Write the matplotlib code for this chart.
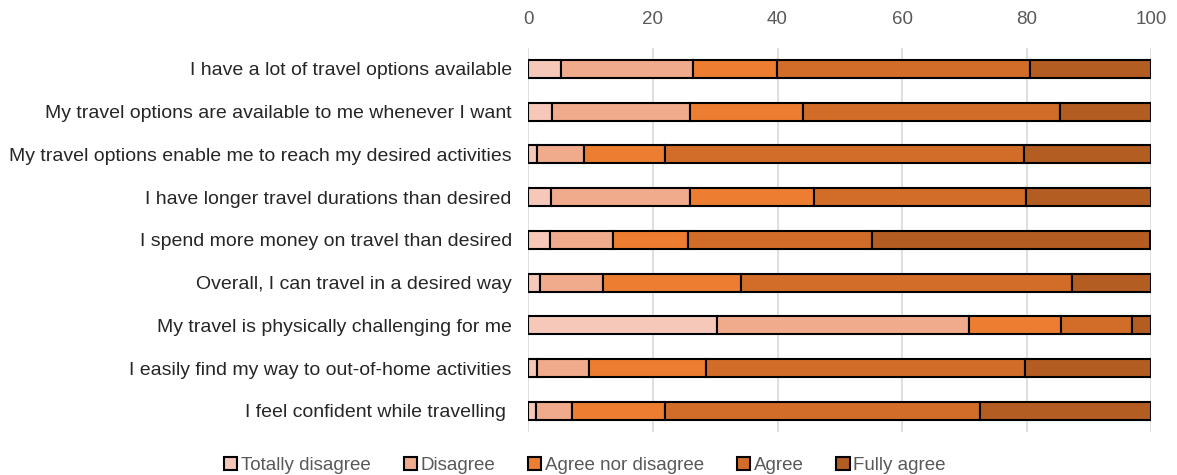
import numpy as np
import matplotlib.pyplot as plt

plt.rcParams['font.family'] = ['Liberation Sans', 'DejaVu Sans']

statements = [
    "I have a lot of travel options available",
    "My travel options are available to me whenever I want",
    "My travel options enable me to reach my desired activities",
    "I have longer travel durations than desired",
    "I spend more money on travel than desired",
    "Overall, I can travel in a desired way",
    "My travel is physically challenging for me",
    "I easily find my way to out-of-home activities",
    "I feel confident while travelling ",
]
categories = ["Totally disagree", "Disagree", "Agree nor disagree", "Agree", "Fully agree"]

# percentages per statement
totally_disagree = [5.2, 3.7, 1.3, 3.6, 3.4, 1.8, 30.3, 1.4, 1.2]
disagree = [21.3, 22.2, 7.6, 22.3, 10.1, 10.1, 40.4, 8.3, 5.8]
neutral = [13.4, 18.2, 13.1, 20.0, 12.2, 22.2, 14.8, 18.8, 15.0]
agree = [40.7, 41.2, 57.6, 34.0, 29.4, 53.2, 11.5, 51.2, 50.5]
fully_agree = [19.4, 14.7, 20.4, 20.1, 44.8, 12.7, 3.0, 20.3, 27.5]

colors = ["#F5C8B9", "#F0AA8C", "#ED7D31", "#D26D29", "#B35D22"]

series = [totally_disagree, disagree, neutral, agree, fully_agree]

fig = plt.figure(figsize=(11.77, 4.75), dpi=100)
ax = fig.add_axes([0.449, 0.09, 0.529, 0.81])

y = np.arange(len(statements))
left = np.zeros(len(statements))
for vals, col, name in zip(series, colors, categories):
    ax.barh(y, vals, left=left, height=0.42, color=col, edgecolor="black",
            linewidth=1.5, label=name, zorder=3)
    left += np.array(vals)

ax.set_xlim(0, 100)
ax.set_ylim(len(statements) - 0.5, -0.5)
ax.set_xticks(np.arange(0, 101, 20))
ax.xaxis.tick_top()
ax.set_yticks(y)
ax.set_yticklabels(statements, fontsize=14, color="#262626")
ax.tick_params(axis="x", length=0, labelsize=13.5, labelcolor="#595959", pad=14)
ax.tick_params(axis="y", length=0, pad=12)
ax.grid(axis="x", color="#D9D9D9", linewidth=1.2, zorder=0)
for s in ax.spines.values():
    s.set_visible(False)

fig.legend(loc="lower center", bbox_to_anchor=(0.497, -0.033), ncol=5, frameon=False,
           fontsize=13.5, handlelength=0.7, handleheight=0.7, handletextpad=0.2,
           columnspacing=1.75, labelcolor="#595959")

fig.savefig("out.png", dpi=100)
